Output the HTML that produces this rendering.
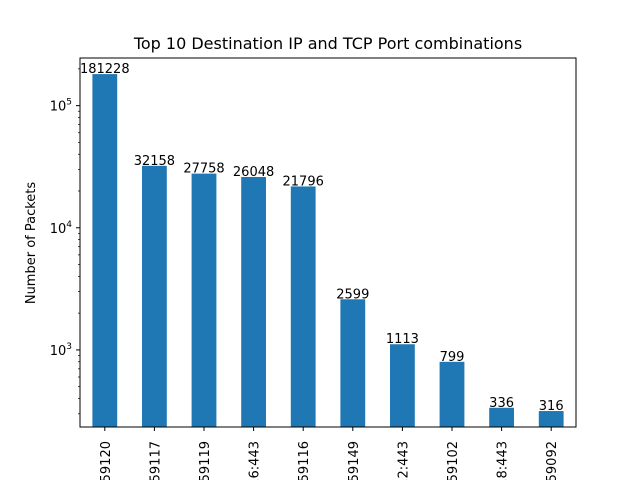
<!DOCTYPE html>
<html><head><meta charset="utf-8"><style>
html,body{margin:0;background:#fff;width:640px;height:480px;overflow:hidden;}
svg{display:block;overflow:hidden;font-family:"DejaVu Sans","Liberation Sans",sans-serif;}
</style></head><body>
<svg id="chart" width="640" height="480" viewBox="0 0 640 480">
<rect width="640" height="480" fill="#fff"/>
<text x="328" y="49" font-size="16" text-anchor="middle">Top 10 Destination IP and TCP Port combinations</text>
<text transform="translate(35,243) rotate(-90)" font-size="13" text-anchor="middle">Number of Packets</text>
<g id="bars"></g>
<g id="yticks"></g>
<g id="xticks"></g>
<rect x="80" y="58" width="496" height="369" fill="none" stroke="#000" stroke-width="1"/>
</svg>
<script>
const categories=["10.0.0.1:59120","10.0.0.1:59117","10.0.0.1:59119","10.0.0.6:443","10.0.0.1:59116","10.0.0.1:59149","10.0.0.2:443","10.0.0.1:59102","10.0.0.8:443","10.0.0.1:59092"];
const values=[181228,32158,27758,26048,21796,2599,1113,799,336,316];
const yMajor=[3,4,5];
const NS="http://www.w3.org/2000/svg";
const L=80,R=576,T=58,B=427,lmin=2.369,lmax=5.39;
function y(v){return B-(Math.log10(v)-lmin)/(lmax-lmin)*(B-T);}
function x(i){return L+(i+0.5)*(R-L)/categories.length;}
function mk(tag,attrs,parent){const e=document.createElementNS(NS,tag);for(const k in attrs)e.setAttribute(k,attrs[k]);parent.appendChild(e);return e;}
const bars=document.getElementById('bars'),yt=document.getElementById('yticks'),xt=document.getElementById('xticks');
const bw=(R-L)/categories.length*0.5;
values.forEach((v,i)=>{
  const r=mk('rect',{x:x(i)-bw/2,y:y(v),width:bw,height:B-y(v),fill:'#1f77b4'},bars);
  
  
  const t=mk('text',{x:x(i),y:y(v)-1,'font-size':13,'text-anchor':'middle'},bars);
  t.textContent=v;
  
  
  mk('line',{x1:x(i),x2:x(i),y1:B,y2:B+4,stroke:'#000'},xt);
  const lb=mk('text',{transform:`translate(${x(i)+5},${B+14}) rotate(-90)`,'font-size':13,'text-anchor':'end'},xt);
  lb.textContent=categories[i];
  
  
});
for(let d=2;d<=5;d++){for(let m=1;m<10;m++){const v=m*Math.pow(10,d);const yy=y(v);if(yy<T||yy>B)continue;
  if(m===1){mk('line',{x1:L-4,x2:L,y1:yy,y2:yy,stroke:'#000'},yt);
    const t=mk('text',{x:L-8,y:yy+5,'font-size':13,'text-anchor':'end'},yt);
    t.innerHTML='10<tspan dy="-6" font-size="9">'+d+'</tspan>';
    
    
  } else mk('line',{x1:L-2,x2:L,y1:yy,y2:yy,stroke:'#000','stroke-width':0.7},yt);
}}
</script>
</body></html>
